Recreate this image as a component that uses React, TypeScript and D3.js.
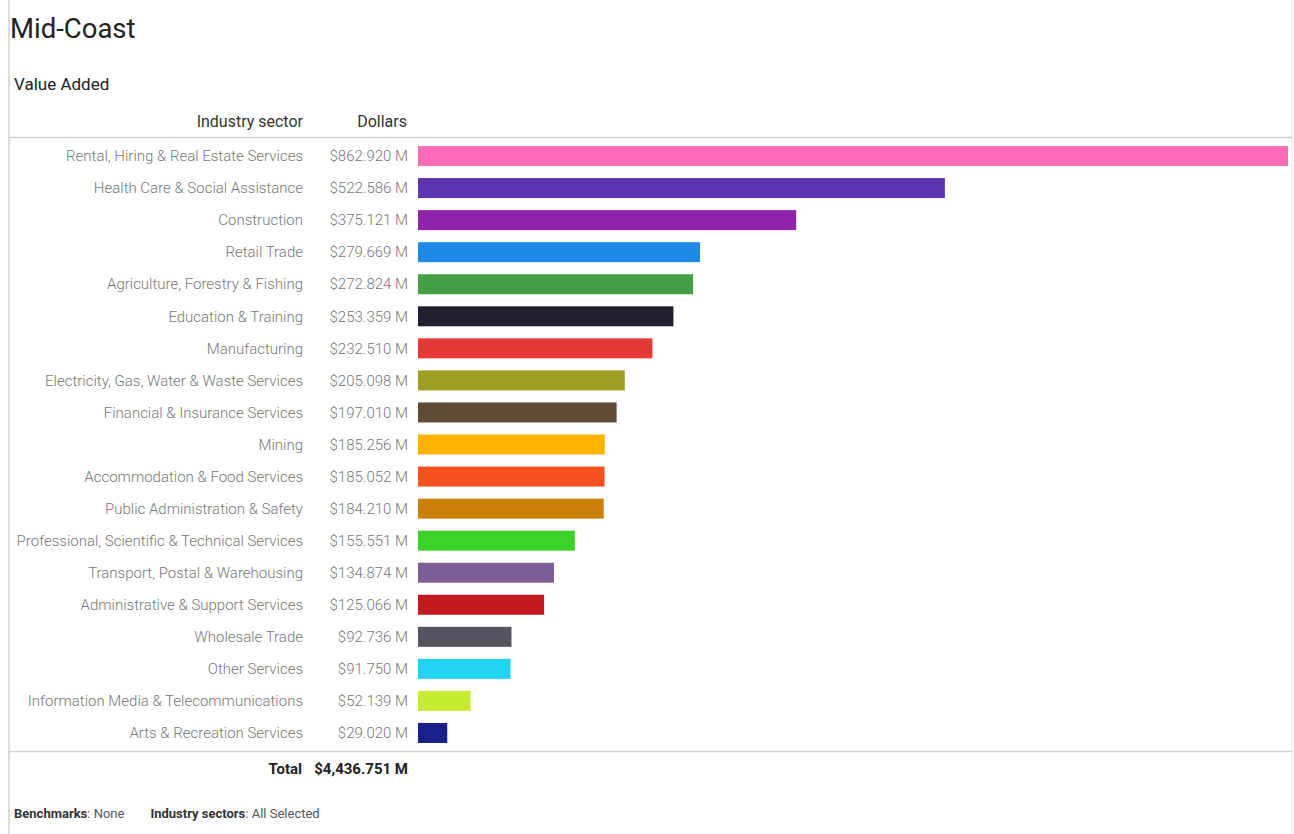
import React from "react";
import * as d3 from "d3";

const sectors = [
  "Rental, Hiring & Real Estate Services",
  "Health Care & Social Assistance",
  "Construction",
  "Retail Trade",
  "Agriculture, Forestry & Fishing",
  "Education & Training",
  "Manufacturing",
  "Electricity, Gas, Water & Waste Services",
  "Financial & Insurance Services",
  "Mining",
  "Accommodation & Food Services",
  "Public Administration & Safety",
  "Professional, Scientific & Technical Services",
  "Transport, Postal & Warehousing",
  "Administrative & Support Services",
  "Wholesale Trade",
  "Other Services",
  "Information Media & Telecommunications",
  "Arts & Recreation Services",
];

const values = [
  862.92, 522.586, 375.121, 279.669, 272.824, 253.359, 232.51, 205.098, 197.01,
  185.256, 185.052, 184.21, 155.551, 134.874, 125.066, 92.736, 91.75, 52.139, 29.02,
];

const colors = [
  "#fb6bb8", "#5e35b1", "#8e24aa", "#1e88e5", "#43a047", "#1f1f30", "#e53935",
  "#9e9d24", "#5d4b33", "#ffb300", "#f4511e", "#cc800c", "#3dd42a", "#7b5e96",
  "#c2181e", "#545460", "#22d3f0", "#c6ec32", "#1a1f8a",
];

const totalLabel = "$4,436.751 M";

const W = 1294;
const H = 834;
const FONT = "Roboto, 'Noto Sans', sans-serif";

export default function App() {
  const x = d3.scaleLinear().domain([0, d3.max(values) as number]).range([418, 1288]);
  const y = d3
    .scaleBand<string>()
    .domain(sectors)
    .range([140, 749])
    .paddingInner(0.376)
    .paddingOuter(0.188);
  const fmt = d3.format(",.3f");

  return (
    <svg
      width={W}
      height={H}
      style={{ position: "absolute", left: 0, top: 0, background: "#fff" }}
      fontFamily={FONT}
    >
      <line x1={9} x2={9} y1={0} y2={H} stroke="#d0d0d0" strokeWidth={1.5} />
      <line x1={1292} x2={1292} y1={0} y2={H} stroke="#e2e2e2" strokeWidth={1} />
      <text x={10} y={38} fontSize={27.5} fill="#222">Mid-Coast</text>
      <text x={14} y={90} fontSize={17} fill="#222">Value Added</text>
      <text x={303} y={127} fontSize={16} fill="#333" textAnchor="end">Industry sector</text>
      <text x={407} y={127} fontSize={16} fill="#333" textAnchor="end">Dollars</text>
      <line x1={9} x2={1292} y1={137.5} y2={137.5} stroke="#cfcfcf" strokeWidth={1.5} />
      {sectors.map((s, i) => {
        const yc = (y(s) as number) + y.bandwidth() / 2;
        return (
          <g key={s}>
            <text
              x={303}
              y={yc}
              dy="0.35em"
              fontSize={15}
              fontWeight={300}
              fill="#777"
              textAnchor="end"
            >
              {s}
            </text>
            <text
              x={408}
              y={yc}
              dy="0.35em"
              fontSize={15}
              fontWeight={300}
              fill="#777"
              textAnchor="end"
            >
              {"$" + fmt(values[i]) + " M"}
            </text>
            <rect
              x={x(0)}
              y={y(s)}
              width={x(values[i]) - x(0)}
              height={y.bandwidth()}
              fill={colors[i]}
            />
          </g>
        );
      })}
      <line x1={9} x2={1292} y1={751.5} y2={751.5} stroke="#d6d6d6" strokeWidth={1.5} />
      <text x={302} y={774} fontSize={15} fontWeight={700} fill="#222" textAnchor="end">Total</text>
      <text x={408} y={774} fontSize={15} fontWeight={700} fill="#222" textAnchor="end">{totalLabel}</text>
      <text x={14} y={818} fontSize={13} fill="#555">
        <tspan fontWeight={700} fill="#333">Benchmarks</tspan>
        <tspan>: None</tspan>
        <tspan dx={26} fontWeight={700} fill="#333">Industry sectors</tspan>
        <tspan>: All Selected</tspan>
      </text>
    </svg>
  );
}
